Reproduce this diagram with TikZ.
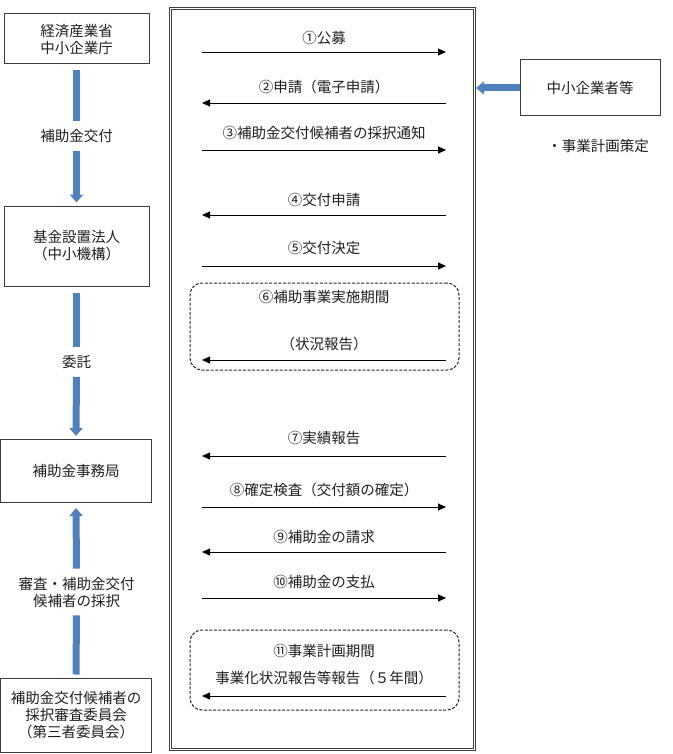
\documentclass[tikz,border=0pt]{standalone}
\usepackage{fontspec}
\setmainfont{Noto Sans CJK JP}
\usetikzlibrary{arrows.meta}
\definecolor{barblue}{RGB}{79,129,189}
\definecolor{boxline}{RGB}{60,60,60}
\begin{document}
\begin{tikzpicture}[x=1pt,y=-1pt,
  every node/.style={font=\fontsize{14.5}{17}\selectfont, text=black!88},
  orgbox/.style={draw=boxline, line width=1pt, align=center, inner sep=0pt},
  lbl/.style={align=center, inner sep=2pt},
  bluebar/.style={draw=barblue, line width=7pt},
  bluetip/.style={-{Triangle[width=13pt,length=8pt]}},
  flow/.style={line width=0.9pt, -{Triangle[width=7pt,length=8pt]}},
  period/.style={draw=black!85, line width=1pt, dash pattern=on 3pt off 1.6pt, rounded corners=12pt, inner sep=0pt}
]
\useasboundingbox (0,0) rectangle (672,754);

% main frame
\node[draw=black!75, line width=1.1pt, double=white, double distance=1.2pt,
      minimum width=304pt, minimum height=741pt, inner sep=0pt] (frame) at (322.5,379) {};

% left column boxes
\node[orgbox, minimum width=145pt, minimum height=50pt] (b1) at (76.5,39) {経済産業省\\中小企業庁};
\node[orgbox, minimum width=145pt, minimum height=80pt] (b2) at (76.5,246) {基金設置法人\\（中小機構）};
\node[orgbox, minimum width=151pt, minimum height=63pt] (b3) at (76,471) {補助金事務局};
\node[orgbox, minimum width=151pt, minimum height=74pt] (b4) at (76,715) {補助金交付候補者の\\採択審査委員会\\（第三者委員会）};

% left labels
\node[lbl] (l1) at (76.5,136) {補助金交付};
\node[lbl] (l2) at (76.5,362) {委託};
\node[lbl] (l3) at (76.5,592) {審査・補助金交付\\候補者の採択};

% blue bars
\draw[bluebar, shorten <=6pt, shorten >=6pt] (b1.south) -- (l1.north);
\draw[bluebar, bluetip, shorten <=6pt, shorten >=3pt] (l1.south) -- (b2.north);
\draw[bluebar, shorten <=6pt, shorten >=6pt] (b2.south) -- (l2.north);
\draw[bluebar, bluetip, shorten <=6pt, shorten >=3pt] (l2.south) -- (b3.north);
\draw[bluebar, shorten <=3pt, shorten >=6pt] (b4.north) -- (l3.south);
\draw[bluebar, bluetip, shorten <=6pt, shorten >=5pt] (l3.north) -- (b3.south);

% right box
\node[orgbox, minimum width=140pt, minimum height=56pt] (rb) at (590,88) {中小企業者等};
\node[lbl] (plan) at (598,146) {・事業計画策定};
\draw[bluebar, bluetip, shorten >=1pt] (rb.west) -- (rb.west -| frame.east);

% dashed period boxes
\node[period, minimum width=269pt, minimum height=87pt] (d1) at (324.5,326.5) {};
\node[period, minimum width=269pt, minimum height=80pt] (d2) at (324.5,670) {};

% flows
\coordinate (L1) at (202,52);  \coordinate (R1) at (446,52);
\coordinate (L2) at (202,103); \coordinate (R2) at (446,103);
\coordinate (L3) at (202,150); \coordinate (R3) at (446,150);
\coordinate (L4) at (202,215); \coordinate (R4) at (446,215);
\coordinate (L5) at (202,266); \coordinate (R5) at (446,266);
\coordinate (L6) at (202,360); \coordinate (R6) at (446,360);
\coordinate (L7) at (202,456); \coordinate (R7) at (446,456);
\coordinate (L8) at (202,507); \coordinate (R8) at (446,507);
\coordinate (L9) at (202,552); \coordinate (R9) at (446,552);
\coordinate (L10) at (202,598); \coordinate (R10) at (446,598);
\coordinate (L11) at (202,696); \coordinate (R11) at (446,696);

\draw[flow] (L1) -- (R1);
\draw[flow] (R2) -- (L2);
\draw[flow] (L3) -- (R3);
\draw[flow] (R4) -- (L4);
\draw[flow] (L5) -- (R5);
\draw[flow] (R6) -- (L6);
\draw[flow] (R7) -- (L7);
\draw[flow] (L8) -- (R8);
\draw[flow] (R9) -- (L9);
\draw[flow] (L10) -- (R10);
\draw[flow] (R11) -- (L11);

\node[lbl] (t1) at (324,38) {①公募};
\node[lbl] (t2) at (324,87) {②申請（電子申請）};
\node[lbl] (t3) at (324,133) {③補助金交付候補者の採択通知};
\node[lbl] (t4) at (324,200) {④交付申請};
\node[lbl] (t5) at (324,248) {⑤交付決定};
\node[lbl] (t6) at (324,297) {⑥補助事業実施期間};
\node[lbl] (t6b) at (324,344) {（状況報告）};
\node[lbl] (t7) at (324,438) {⑦実績報告};
\node[lbl] (t8) at (324,490) {⑧確定検査（交付額の確定）};
\node[lbl] (t9) at (324,537) {⑨補助金の請求};
\node[lbl] (t10) at (324,582) {⑩補助金の支払};
\node[lbl] (t11) at (324,651) {⑪事業計画期間};
\node[lbl] (t11b) at (324,678) {事業化状況報告等報告（５年間）};
\end{tikzpicture}
\end{document}
